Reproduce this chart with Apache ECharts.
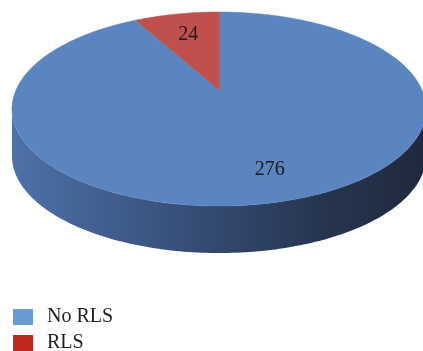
<!DOCTYPE html>
<html><head><meta charset="utf-8">
<script src="https://cdn.jsdelivr.net/npm/echarts@6/dist/echarts.min.js"></script>
<style>html,body{margin:0;padding:0;background:#fff}#c{width:423px;height:351px}</style>
</head><body><div id="c"></div>
<script>
// ---- data ----
const categories = ['No RLS', 'RLS'];
const values = [276, 24];

// ---- styles / layout (not data) ----
const topColors = ['#5a85c0', '#c0504d'];
const legendColors = ['#6a9ad6', '#c0281f'];
const legendTops = [307, 333];
const labelPlacement = [{angle: 163.6, r: 0.76}, {angle: null, r: 0.69}];
const geo = {cx: 219, cy: 90, A: 203, B: 93.3, q: 0.196, depth: 47};
const FONT = '20px "Liberation Serif", "DejaVu Serif", serif';

const total = values.reduce((a, b) => a + b, 0);
function startAngle(i) {
  let s = 0; for (let k = 0; k < i; k++) s += values[k];
  return 360 * s / total;
}
function project(thetaDeg, r, dy) {
  const t = thetaDeg * Math.PI / 180;
  const u = r * Math.sin(t), v = -r * Math.cos(t);
  const d = 1 - geo.q * v;
  return [geo.cx + geo.A * u / d, geo.cy + geo.B * v / d + (dy || 0)];
}
function arcPoints(a0, a1, dy) {
  const pts = [];
  const n = Math.max(2, Math.ceil(Math.abs(a1 - a0) / 1));
  for (let k = 0; k <= n; k++) pts.push(project(a0 + (a1 - a0) * k / n, 1, dy));
  return pts;
}
const thetaR = Math.acos(-geo.q) * 180 / Math.PI;
const thetaL = 360 - thetaR;

const sideGradient = new echarts.graphic.LinearGradient(12, 0, 426, 0, [
  {offset: 0, color: '#4d72a8'},
  {offset: 0.45, color: '#354c74'},
  {offset: 0.75, color: '#27354f'},
  {offset: 1, color: '#1f293d'}
], true);

const series = [];
// side walls (one series, drawn beneath the tops)
series.push({
  type: 'custom', name: '_side', coordinateSystem: 'none', z: 1, silent: true,
  data: values.map(v => [v]),
  renderItem: function (params, api) {
    const i = params.dataIndex;
    const a0 = startAngle(i), a1 = a0 + 360 * api.value(0) / total;
    const s0 = Math.max(a0, thetaR), s1 = Math.min(a1, thetaL);
    if (s1 <= s0) return {type: 'group', children: []};
    const topArc = arcPoints(s0, s1, 0);
    const botArc = arcPoints(s1, s0, geo.depth);
    return {type: 'polygon', shape: {points: topArc.concat(botArc)},
      style: {fill: sideGradient, stroke: null}};
  }
});
// tops, one series per category (for the legend)
categories.forEach((name, i) => {
  series.push({
    type: 'custom', name: name, coordinateSystem: 'none', z: 2,
    itemStyle: {color: legendColors[i]},
    data: [[values[i]]],
    renderItem: function (params, api) {
      const a0 = startAngle(i), a1 = a0 + 360 * api.value(0) / total;
      const pts = [project(0, 0, 0)].concat(arcPoints(a0, a1, 0));
      const lp = labelPlacement[i];
      const la = lp.angle != null ? lp.angle : (a0 + a1) / 2;
      const pos = project(la, lp.r, 0);
      return {type: 'group', children: [
        {type: 'polygon', shape: {points: pts}, style: {fill: topColors[i], stroke: topColors[i], lineWidth: 0.5}},
        {type: 'text', z2: 10, style: {text: String(api.value(0)), x: pos[0], y: pos[1],
          align: 'center', verticalAlign: 'middle', font: FONT, fill: '#1a1a1a'}}
      ]};
    }
  });
});

const chart = echarts.init(document.getElementById('c'), null, {renderer: 'canvas'});
chart.setOption({
  animation: false,
  legend: categories.map((name, i) => ({
    data: [name], orient: 'vertical', left: 13, top: legendTops[i], padding: 0,
    itemWidth: 20, itemHeight: 16, icon: 'rect',
    selectedMode: false,
    textStyle: {fontFamily: '"Liberation Serif", "DejaVu Serif", serif', fontSize: 20,
      color: '#222', padding: [0, 0, 0, 9]}
  })),
  series: series
});
</script>
</body></html>
